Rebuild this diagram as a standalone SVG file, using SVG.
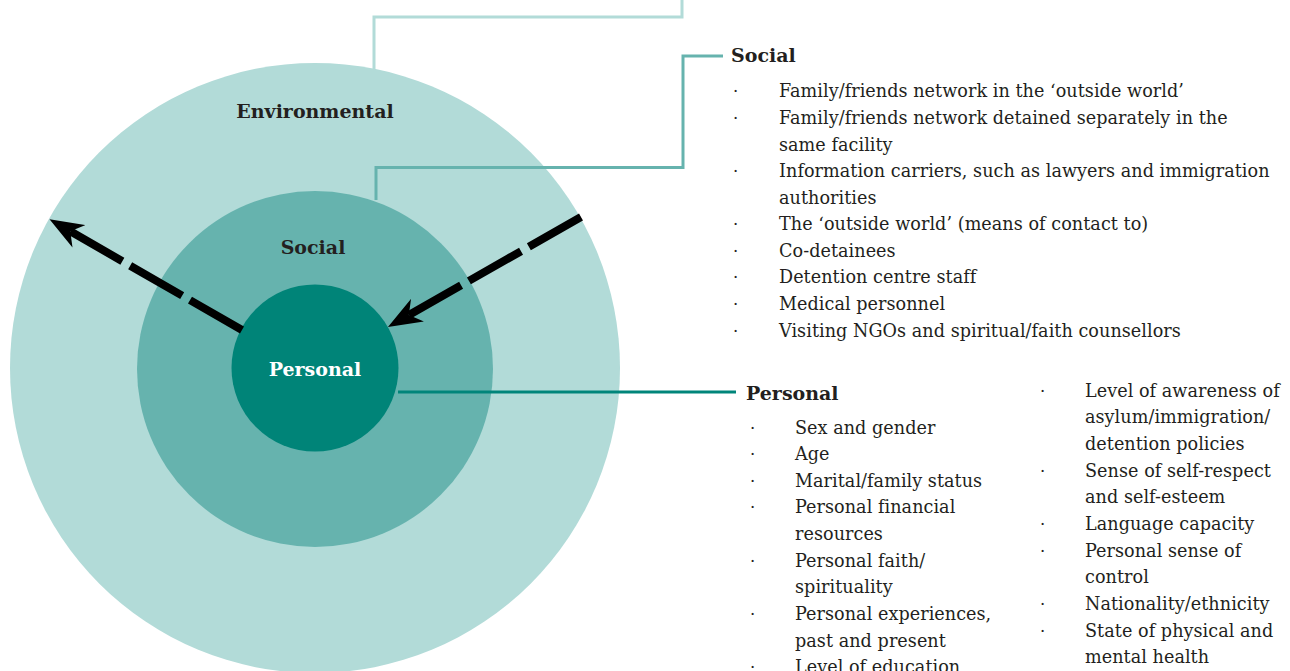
<svg xmlns="http://www.w3.org/2000/svg" width="1290" height="671" viewBox="0 0 1290 671">
<style>
.h{font-family:"DejaVu Serif","Liberation Serif",serif;font-weight:bold;font-size:19px;fill:#231f20}
.t{font-family:"DejaVu Serif","Liberation Serif",serif;font-size:17.6px;letter-spacing:0.05px;fill:#231f20}
.b{font-family:"DejaVu Serif","Liberation Serif",serif;font-size:16.5px;fill:#231f20}
.lead{fill:none;stroke-width:3}
.arrow{fill:none;stroke:#000;stroke-width:8;stroke-dasharray:60 9;marker-end:url(#ah)}
</style>
<defs>
<marker id="ah" markerUnits="userSpaceOnUse" viewBox="0 0 34 26" markerWidth="34" markerHeight="26" refX="10" refY="13" orient="auto">
<path d="M34,13 L0,0 L10,13 L0,26 Z" fill="#000"/>
</marker>
</defs>
<rect width="1290" height="671" fill="#fff"/>
<g id="environmental">
<circle cx="315" cy="368" r="305" fill="#b2dbd8"/>
<text class="h" x="315" y="118" text-anchor="middle">Environmental</text>
</g>
<g id="social">
<circle cx="315" cy="369" r="178" fill="#66b3ae"/>
<text class="h" x="313" y="254" text-anchor="middle">Social</text>
</g>
<g id="personal">
<circle cx="315" cy="368" r="83.5" fill="#008478"/>
<text class="h" x="315" y="376" text-anchor="middle" style="fill:#fff">Personal</text>
</g>
<g id="connectors">
<polyline class="lead" stroke="#b2dbd8" points="374,70 374,17 682,17 682,0"/>
<polyline class="lead" stroke="#66b3ae" points="376,200 376,167.5 683,167.5 683,56 723,56"/>
<line class="lead" stroke="#00857a" stroke-width="2.5" x1="398" y1="392" x2="736" y2="392"/>
<path class="arrow" d="M242,330 L70.3,231.3"/>
<path class="arrow" d="M581,217 L408.8,315.1"/>
</g>
<g id="social-list">
<text class="h" x="731" y="62">Social</text>
<g class="b">
<text x="733" y="97">·</text><text x="733" y="124">·</text><text x="733" y="177">·</text><text x="733" y="230">·</text><text x="733" y="257">·</text><text x="733" y="283">·</text><text x="733" y="310">·</text><text x="733" y="337">·</text>
</g>
<g class="t">
<text x="779" y="97">Family/friends network in the ‘outside world’</text>
<text x="779" y="124">Family/friends network detained separately in the</text>
<text x="779" y="150.5">same facility</text>
<text x="779" y="177">Information carriers, such as lawyers and immigration</text>
<text x="779" y="203.5">authorities</text>
<text x="779" y="230">The ‘outside world’ (means of contact to)</text>
<text x="779" y="257">Co-detainees</text>
<text x="779" y="283">Detention centre staff</text>
<text x="779" y="310">Medical personnel</text>
<text x="779" y="337">Visiting NGOs and spiritual/faith counsellors</text>
</g>
</g>
<g id="personal-list">
<text class="h" x="746" y="400">Personal</text>
<g class="b">
<text x="750" y="433.5">·</text><text x="750" y="460">·</text><text x="750" y="486.7">·</text><text x="750" y="513.3">·</text><text x="750" y="566.7">·</text><text x="750" y="620">·</text><text x="750" y="673.3">·</text>
<text x="1040" y="396.7">·</text><text x="1040" y="476.7">·</text><text x="1040" y="530">·</text><text x="1040" y="556.7">·</text><text x="1040" y="610">·</text><text x="1040" y="636.7">·</text>
</g>
<g class="t">
<text x="795" y="433.5">Sex and gender</text>
<text x="795" y="460">Age</text>
<text x="795" y="486.7">Marital/family status</text>
<text x="795" y="513.3">Personal financial</text>
<text x="795" y="540">resources</text>
<text x="795" y="566.7">Personal faith/</text>
<text x="795" y="593.3">spirituality</text>
<text x="795" y="620">Personal experiences,</text>
<text x="795" y="646.7">past and present</text>
<text x="795" y="673.3">Level of education</text>
<text x="1085" y="396.7">Level of awareness of</text>
<text x="1085" y="423.3">asylum/immigration/</text>
<text x="1085" y="450">detention policies</text>
<text x="1085" y="476.7">Sense of self-respect</text>
<text x="1085" y="503.3">and self-esteem</text>
<text x="1085" y="530">Language capacity</text>
<text x="1085" y="556.7">Personal sense of</text>
<text x="1085" y="583.3">control</text>
<text x="1085" y="610">Nationality/ethnicity</text>
<text x="1085" y="636.7">State of physical and</text>
<text x="1085" y="663.3">mental health</text>
</g>
</g>
</svg>
